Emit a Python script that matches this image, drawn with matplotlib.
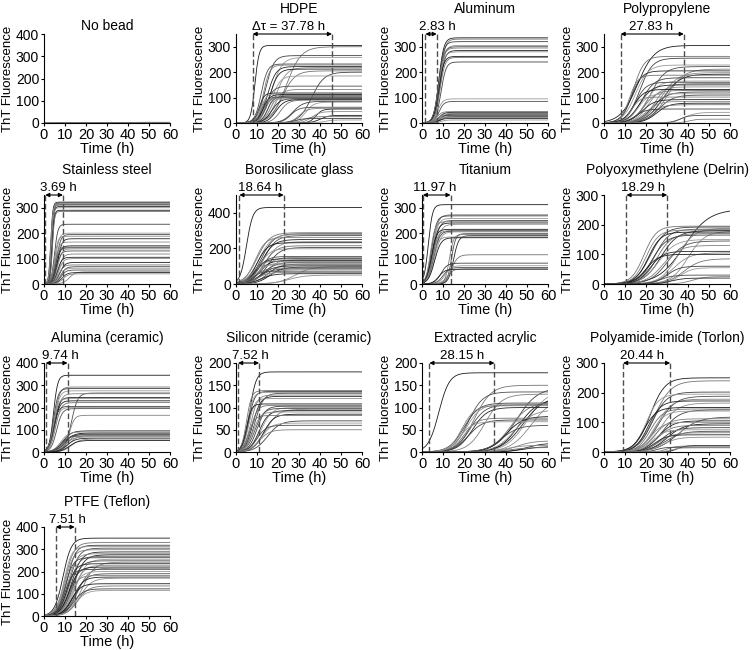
import numpy as np
import matplotlib
matplotlib.use('Agg')
import matplotlib.pyplot as plt

plt.rcParams['font.family'] = ['Liberation Sans', 'DejaVu Sans']
plt.rcParams['font.size'] = 10

time = np.linspace(0, 60, 601)

# per well: plateau (ThT), half-rise time t50 (h), rise width (h)
NOBEAD_AMP = [3, 2, 2, 1]
NOBEAD_T50 = [25, 30, 35, 40]
NOBEAD_W = [5, 5, 5, 5]

HDPE_AMP = [305, 300, 265, 258, 232, 228, 222, 218, 212, 205, 200, 185, 145, 132, 118, 115, 112, 108,
            105, 102, 100, 98, 96, 94, 92, 90, 85, 82, 62, 58, 55, 45, 30, 25, 18, 12]
HDPE_T50 = [9, 24, 14, 17, 12, 13, 15, 19, 16, 22, 36, 17, 14, 18, 11, 12, 13, 14,
            15, 16, 12, 13, 17, 11, 19, 21, 27, 33, 26, 30, 38, 36, 40, 32, 28, 42]
HDPE_W = [1.0, 3.5, 2.0, 2.5, 1.5, 1.5, 2.0, 2.5, 2.0, 3.0, 3.0, 2.0, 2.0, 2.0, 1.2, 1.2, 1.5, 1.5,
          1.5, 1.5, 1.2, 1.2, 2.0, 1.2, 2.0, 2.0, 2.5, 2.0, 2.0, 2.0, 1.5, 2.0, 2.0, 2.0, 2.0, 2.0]
HDPE_LAG = [7.9, 45.7]

AL_AMP = [335, 330, 320, 305, 300, 295, 285, 280, 262, 258, 240, 95, 85, 45, 42, 38, 35, 32, 30, 27,
          25, 22, 18, 12]
AL_T50 = [8, 8.5, 8, 8.5, 8, 8, 8.5, 8, 8, 8.5, 9, 7.5, 8, 7, 8, 8, 9, 7, 8, 8, 9, 7, 8, 9]
AL_W = [1.2] * 24
AL_LAG = [1.6, 7.0]

PP_AMP = [305, 262, 255, 228, 222, 212, 205, 198, 192, 188, 178, 165, 160, 155, 150, 142, 132, 128,
          122, 115, 110, 102, 92, 85, 78, 72, 55, 42, 30, 15]
PP_T50 = [16, 14, 17, 15, 22, 30, 13, 27, 28, 12, 18, 20, 15, 24, 17, 21, 14, 19,
          23, 16, 26, 13, 18, 20, 25, 22, 15, 38, 36, 40]
PP_W = [4, 2.5, 3, 3, 3.5, 4, 2.5, 4, 4, 2, 3, 3, 2.5, 3, 3, 3, 2.5, 3,
        3.5, 2.5, 3.5, 2, 3, 3, 3, 3, 2.5, 3, 2, 2]
PP_LAG = [7.9, 38.0]

SS_AMP = [322, 320, 318, 315, 312, 310, 305, 300, 290, 285, 235, 200, 195, 188, 178, 165, 150, 145,
          142, 138, 130, 118, 105, 100, 85, 75, 68, 62, 55, 48, 45, 40]
SS_T50 = [3.2, 3.5, 3.8, 3.4, 3.6, 3.3, 3.7, 3.5, 3.9, 4.0, 5, 5.5, 6, 5, 6.5, 5.5, 6, 5,
          5.5, 6.5, 6, 7, 6.5, 7, 7.5, 7, 8, 7.5, 8, 12, 8.5, 9]
SS_W = [0.5] * 10 + [0.8, 0.9, 1.0, 0.8, 1.0, 0.9, 1.0, 0.8, 0.9, 1.0,
                     1.0, 1.1, 1.0, 1.1, 1.2, 1.1, 1.2, 1.2, 1.2, 1.5, 1.3, 1.3]
SS_LAG = [0.6, 9.0]

BG_AMP = [430, 288, 282, 278, 272, 262, 250, 238, 232, 215, 205, 198, 155, 150, 142, 138, 132, 128,
          122, 118, 112, 108, 102, 98, 95, 90, 85, 80, 72, 65, 58, 50]
BG_T50 = [5, 10, 12, 11, 13, 9, 12, 14, 10, 13, 15, 11, 10, 12, 9, 14, 11, 8,
          13, 10, 15, 7, 12, 28, 16, 9, 11, 14, 8, 10, 12, 25]
BG_W = [1.5, 3, 3, 3, 3, 2.5, 3, 3, 2.5, 3, 3, 2.5, 2.5, 3, 2.5, 3, 2.5, 2,
        3, 2.5, 3, 2, 3, 4, 3, 2.5, 3, 3, 2, 2.5, 3, 4]
BG_LAG = [1.6, 22.7]

TI_AMP = [312, 272, 268, 258, 250, 245, 240, 235, 215, 210, 208, 205, 198, 195, 190, 185, 182, 115,
          82, 72, 65, 60, 58]
TI_T50 = [3, 5, 4.5, 5, 5.5, 4, 5, 6, 4.5, 5, 5.5, 6, 14, 13, 15, 5, 6, 14, 9, 11, 10, 12, 8]
TI_W = [1.0, 1.3, 1.2, 1.3, 1.4, 1.1, 1.3, 1.5, 1.2, 1.3, 1.4, 1.5, 1.0, 1.0, 1.2, 1.3, 1.5, 1.5,
        1.5, 1.5, 1.5, 1.5, 1.5]
TI_LAG = [0.4, 13.6]

POM_AMP = [252, 195, 192, 188, 185, 182, 180, 178, 175, 170, 165, 150, 145, 130, 110, 105, 100, 85,
           60, 55, 30, 25, 20]
POM_T50 = [38, 19, 22, 35, 24, 20, 27, 40, 21, 25, 23, 26, 30, 28, 22, 33, 20, 38, 30, 36, 27, 42, 32]
POM_W = [6, 3, 3.5, 4, 3.5, 3, 4, 4, 3, 3.5, 3.5, 4, 4, 4, 3, 4, 3, 4, 3, 3, 3, 3, 3]
POM_LAG = [10.7, 30.1]

ALU_AMP = [345, 292, 285, 275, 265, 262, 245, 240, 230, 222, 205, 200, 195, 165, 95, 90, 85, 82,
           78, 75, 72, 68, 62, 58, 52]
ALU_T50 = [4.5, 5, 4.5, 5, 13, 5.5, 5, 4.5, 5, 5.5, 4.5, 5, 6, 12, 9, 8, 10, 11, 9, 12, 8, 10, 11, 13, 12]
ALU_W = [1.0, 1.2, 1.1, 1.2, 1.5, 1.3, 1.2, 1.1, 1.2, 1.3, 1.1, 1.2, 1.3, 1.2, 2, 1.8, 2, 2,
         1.8, 2, 1.8, 2, 2, 2, 2]
ALU_LAG = [0.8, 11.2]

SIN_AMP = [180, 138, 136, 134, 132, 128, 125, 120, 108, 105, 103, 100, 98, 96, 93, 90, 85, 82,
           70, 65, 60, 50]
SIN_T50 = [6.5, 5, 6, 5.5, 9, 7, 8, 6, 5, 7, 10, 12, 9, 14, 11, 8, 13, 6, 15, 12, 10, 11]
SIN_W = [1.5, 1.2, 1.4, 1.3, 2, 1.6, 1.8, 1.4, 1.2, 1.6, 2, 2.5, 2, 3, 2.2, 1.8, 2.5, 1.5,
         3, 2.5, 2.2, 2.5]
SIN_LAG = [1.0, 11.0]

ACR_AMP = [178, 150, 145, 140, 135, 130, 125, 122, 118, 112, 110, 108, 106, 104, 100, 95, 80, 76,
           72, 68, 60, 25, 20, 15, 12, 10]
ACR_T50 = [8, 25, 45, 50, 22, 30, 48, 52, 46, 42, 20, 21, 23, 19, 24, 44, 40, 20,
           22, 18, 38, 45, 50, 40, 48, 42]
ACR_W = [2.5, 4, 5, 5, 3.5, 4, 5, 5, 4.5, 4.5, 3.5, 3.5, 3.5, 3, 3.5, 4.5, 4, 3,
         3.5, 3, 4, 4, 4, 4, 4, 4]
ACR_LAG = [3.5, 34.5]

PAI_AMP = [250, 240, 202, 195, 188, 178, 172, 165, 150, 145, 142, 138, 118, 112, 105, 100, 95, 90,
           82, 75, 70, 65, 58, 50, 22, 20, 16, 14]
PAI_T50 = [22, 24, 23, 20, 26, 25, 21, 27, 19, 22, 28, 23, 35, 24, 26, 22, 30, 25,
           27, 23, 29, 26, 24, 28, 35, 30, 25, 32]
PAI_W = [3.5, 4, 3.5, 3, 4, 3.5, 3, 4, 3, 3, 4, 3, 5, 3.5, 3.5, 3, 4, 3.5,
         3.5, 3, 4, 3.5, 3, 3.5, 2, 2, 2, 2]
PAI_LAG = [9.1, 31.5]

PTFE_AMP = [350, 330, 318, 312, 305, 298, 288, 280, 275, 268, 262, 255, 248, 242, 235, 228, 220, 215,
            210, 200, 190, 182, 175, 170, 145, 135, 122, 115]
PTFE_T50 = [9, 10, 11, 9.5, 12, 10, 13, 11, 14, 12, 10, 15, 13, 18, 11, 14, 12, 16,
            10, 13, 15, 12, 14, 17, 13, 16, 14, 15]
PTFE_W = [2.0, 2.2, 2.0, 1.8, 2.3, 2.0, 2.4, 2.1, 2.5, 2.2, 1.9, 2.5, 2.3, 3.0, 2.0, 2.4, 2.2, 2.6,
          1.9, 2.3, 2.5, 2.1, 2.4, 2.8, 2.3, 2.6, 2.4, 2.5]
PTFE_LAG = [5.6, 14.6]

panels = [
    ('No bead', NOBEAD_AMP, NOBEAD_T50, NOBEAD_W, 400, 100, None, None, None),
    ('HDPE', HDPE_AMP, HDPE_T50, HDPE_W, 350, 100, HDPE_LAG, '\u0394\u03c4 = 37.78 h', 25.2),
    ('Aluminum', AL_AMP, AL_T50, AL_W, 350, 100, AL_LAG, '2.83 h', 7.2),
    ('Polypropylene', PP_AMP, PP_T50, PP_W, 350, 100, PP_LAG, '27.83 h', 22.4),
    ('Stainless steel', SS_AMP, SS_T50, SS_W, 350, 100, SS_LAG, '3.69 h', 7.0),
    ('Borosilicate glass', BG_AMP, BG_T50, BG_W, 500, 200, BG_LAG, '18.64 h', 11.3),
    ('Titanium', TI_AMP, TI_T50, TI_W, 350, 100, TI_LAG, '11.97 h', 6.2),
    ('Polyoxymethylene (Delrin)', POM_AMP, POM_T50, POM_W, 300, 100, POM_LAG, '18.29 h', 18.4),
    ('Alumina (ceramic)', ALU_AMP, ALU_T50, ALU_W, 400, 100, ALU_LAG, '9.74 h', 7.7),
    ('Silicon nitride (ceramic)', SIN_AMP, SIN_T50, SIN_W, 200, 50, SIN_LAG, '7.52 h', 6.9),
    ('Extracted acrylic', ACR_AMP, ACR_T50, ACR_W, 200, 50, ACR_LAG, '28.15 h', 19.1),
    ('Polyamide-imide (Torlon)', PAI_AMP, PAI_T50, PAI_W, 300, 100, PAI_LAG, '20.44 h', 18.0),
    ('PTFE (Teflon)', PTFE_AMP, PTFE_T50, PTFE_W, 400, 100, PTFE_LAG, '7.51 h', 11.1),
]

grays = ['0.1', '0.45', '0.25', '0.6', '0.3', '0.5', '0.15', '0.55']

W_PX, H_PX = 756, 650
col_left = [44, 236, 422, 604]
row_bottom = [123, 284, 452, 616]
ax_w, ax_h = 126, 89

fig = plt.figure(figsize=(W_PX / 100, H_PX / 100), dpi=100)

for i, (name, amp, t50, w, ytop, ystep, lag, lab, lab_x) in enumerate(panels):
    r, c = divmod(i, 4)
    ax = fig.add_axes([col_left[c] / W_PX, (H_PX - row_bottom[r]) / H_PX, ax_w / W_PX, ax_h / H_PX])
    for k in range(len(amp)):
        y = amp[k] / (1 + np.exp(-(time - t50[k]) / w[k]))
        ax.plot(time, y, color=grays[k % len(grays)], lw=0.6)
    ax.set_xlim(0, 60)
    ax.set_ylim(0, ytop)
    ax.set_xticks(range(0, 61, 10))
    ax.set_yticks(range(0, ytop + 1, ystep) if ytop % ystep == 0 else range(0, ytop, ystep))
    ax.spines['top'].set_visible(False)
    ax.spines['right'].set_visible(False)
    for s in ('left', 'bottom'):
        ax.spines[s].set_linewidth(0.8)
    ax.tick_params(length=2.5, width=0.8, pad=1, labelsize=10)
    ax.tick_params(axis='x', labelsize=10.5)
    ax.set_xlabel('Time (h)', fontsize=10.5, labelpad=0)
    ax.set_ylabel('ThT Fluorescence', fontsize=9.5)
    ax.yaxis.set_label_coords(-0.235, 0.5)
    if lag is None:
        ax.set_title(name, fontsize=10, pad=3)
        continue
    ax.set_title(name, fontsize=10, pad=15)
    for x in lag:
        ax.plot([x, x], [0, ytop], ls=(0, (4, 2)), color='0.3', lw=1, clip_on=False)
    ax.annotate('', xy=(lag[0], ytop), xytext=(lag[1], ytop),
                arrowprops=dict(arrowstyle='<|-|>', color='k', lw=0.8, mutation_scale=6,
                                shrinkA=0, shrinkB=0), annotation_clip=False)
    ax.annotate(lab, xy=(lab_x, ytop), xytext=(0, 0.5), textcoords='offset points',
                ha='center', va='bottom', fontsize=9.5, annotation_clip=False)

fig.savefig('out.png', dpi=100)
